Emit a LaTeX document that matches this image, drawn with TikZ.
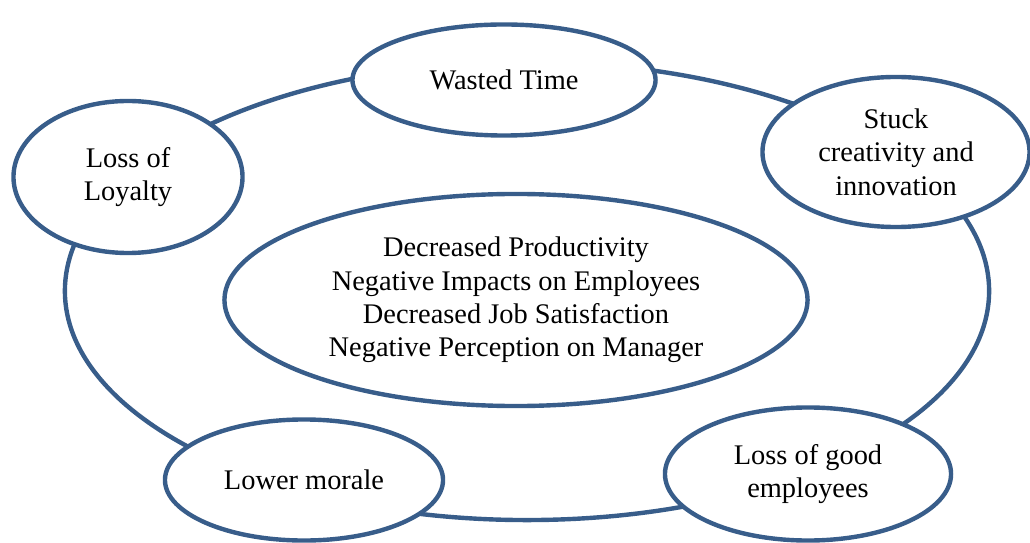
\documentclass[tikz,border=0pt]{standalone}
\usepackage{fontspec}
\setmainfont{Liberation Serif}
\usetikzlibrary{shapes.geometric}

\definecolor{ringblue}{HTML}{385D8A}

\begin{document}
\begin{tikzpicture}[x=0.025cm,y=-0.025cm,
    bubble/.style={ellipse, draw=ringblue, line width=0.11cm, fill=white, inner sep=0pt,
        align=center, font=\fontsize{20.2pt}{23.7pt}\selectfont},
    cycleline/.style={draw=ringblue, line width=0.11cm}]
    \useasboundingbox (0,0) rectangle (1030,543);

    % the cycle behind the bubbles
    \coordinate (ringc) at (527,291);
    \draw [cycleline] (ringc) ellipse [x radius=11.55cm, y radius=5.725cm];

    \node [bubble, minimum width=14.575cm, minimum height=5.3cm] (effects) at (516,300)
        {Decreased Productivity\\Negative Impacts on Employees\\Decreased Job Satisfaction\\Negative Perception on Manager};

    \node [bubble, minimum width=7.575cm, minimum height=2.775cm] (wasted) at (504,80) {Wasted Time};
    \node [bubble, minimum width=6.675cm, minimum height=3.75cm] (stuck) at (896,152) {Stuck\\creativity and\\innovation};
    \node [bubble, minimum width=7.15cm, minimum height=3.325cm] (goodemp) at (808,474) {Loss of good\\employees};
    \node [bubble, minimum width=6.95cm, minimum height=3.025cm] (morale) at (304,480) {Lower morale};
    \node [bubble, minimum width=5.725cm, minimum height=3.8cm] (loyalty) at (128,177) {Loss of\\Loyalty};

\end{tikzpicture}
\end{document}
